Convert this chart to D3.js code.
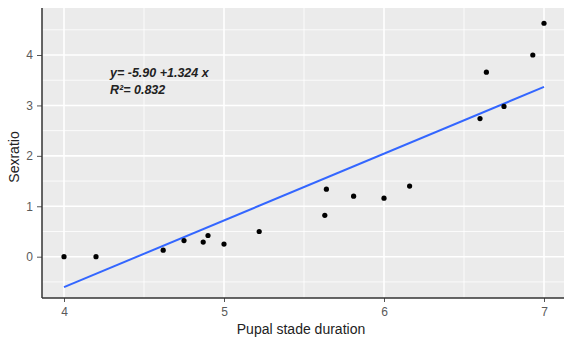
<!DOCTYPE html>
<html><head><meta charset="utf-8">
<script src="https://cdn.jsdelivr.net/npm/d3@7"></script>
<style>body{margin:0;background:#fff}</style>
</head><body>
<script>
const duration = [4.0, 4.2, 4.62, 4.75, 4.87, 4.9, 5.0, 5.22, 5.63, 5.64, 5.81, 6.0, 6.16, 6.6, 6.64, 6.75, 6.93, 7.0];
const sexratio = [0.0, 0.0, 0.13, 0.32, 0.29, 0.42, 0.25, 0.50, 0.82, 1.34, 1.20, 1.16, 1.40, 2.74, 3.66, 2.98, 4.0, 4.63];
const fitIntercept = -5.90, fitSlope = 1.324;
const xTicks = [4, 5, 6, 7];
const yTicks = [0, 1, 2, 3, 4];
const eqLines = ["y= -5.90 +1.324 x", "R²= 0.832"];

(function () {
const W = 564, H = 343;
const svg = d3.select("body").append("svg").attr("width", W).attr("height", H);
const x = d3.scaleLinear().domain([4, 7]).range([64, 544]);
const y = d3.scaleLinear().domain([0, 4]).range([256.7, 55]);
const pL = 42, pR = 564, pT = 8, pB = 298;

svg.append("rect").attr("x", pL).attr("y", pT).attr("width", pR - pL).attr("height", pB - pT).attr("fill", "#EBEBEB");

const g = svg.append("g");
[4.5, 5.5, 6.5].forEach(v => g.append("line").attr("x1", x(v)).attr("x2", x(v)).attr("y1", pT).attr("y2", pB).attr("stroke", "#fff").attr("stroke-width", 0.8));
[-0.5, 0.5, 1.5, 2.5, 3.5, 4.5].forEach(v => g.append("line").attr("y1", y(v)).attr("y2", y(v)).attr("x1", pL).attr("x2", pR).attr("stroke", "#fff").attr("stroke-width", 0.8));
xTicks.forEach(v => g.append("line").attr("x1", x(v)).attr("x2", x(v)).attr("y1", pT).attr("y2", pB).attr("stroke", "#fff").attr("stroke-width", 1.6));
yTicks.forEach(v => g.append("line").attr("y1", y(v)).attr("y2", y(v)).attr("x1", pL).attr("x2", pR).attr("stroke", "#fff").attr("stroke-width", 1.6));

const x0 = d3.min(duration), x1 = d3.max(duration);
svg.append("line")
  .attr("x1", x(x0)).attr("y1", y(fitIntercept + fitSlope * x0))
  .attr("x2", x(x1)).attr("y2", y(fitIntercept + fitSlope * x1))
  .attr("stroke", "#3366FF").attr("stroke-width", 2);

svg.selectAll("circle.pt").data(duration).join("circle").attr("class", "pt")
  .attr("cx", d => x(d)).attr("cy", (d, i) => y(sexratio[i])).attr("r", 2.6).attr("fill", "#000");

const xAxis = svg.append("g").attr("transform", `translate(0,${pB})`)
  .call(d3.axisBottom(x).tickValues(xTicks).tickSize(4).tickPadding(5).tickFormat(d3.format("d")));
const yAxis = svg.append("g").attr("transform", `translate(${pL},0)`)
  .call(d3.axisLeft(y).tickValues(yTicks).tickSize(5).tickPadding(4).tickFormat(d3.format("d")));
[xAxis, yAxis].forEach(a => {
  a.select(".domain").remove();
  a.selectAll(".tick line").attr("stroke", "#555").attr("stroke-width", 1);
  a.selectAll(".tick text").attr("fill", "#5a5a5a").style("font-family", "Liberation Sans, Arial, sans-serif").style("font-size", "12px");
});
svg.append("line").attr("x1", pL).attr("x2", pL).attr("y1", pT).attr("y2", pB).attr("stroke", "#333").attr("stroke-width", 1.5);
svg.append("line").attr("x1", pL).attr("x2", pR).attr("y1", pB).attr("y2", pB).attr("stroke", "#333").attr("stroke-width", 1.5);

svg.append("text").attr("x", 301).attr("y", 334).attr("text-anchor", "middle")
  .style("font-family", "Liberation Sans, Arial, sans-serif").style("font-size", "14px").attr("fill", "#222")
  .text("Pupal stade duration");
svg.append("text").attr("transform", "translate(19,157) rotate(-90)").attr("text-anchor", "middle")
  .style("font-family", "Liberation Sans, Arial, sans-serif").style("font-size", "14px").attr("fill", "#222")
  .text("Sexratio");

eqLines.forEach((t, i) => svg.append("text").attr("x", 110).attr("y", 77 + i * 17)
  .style("font-family", "Liberation Sans, Arial, sans-serif").style("font-size", "12.5px")
  .style("font-weight", "bold").style("font-style", "italic").attr("fill", "#222").text(t));
})();
</script>
</body></html>
